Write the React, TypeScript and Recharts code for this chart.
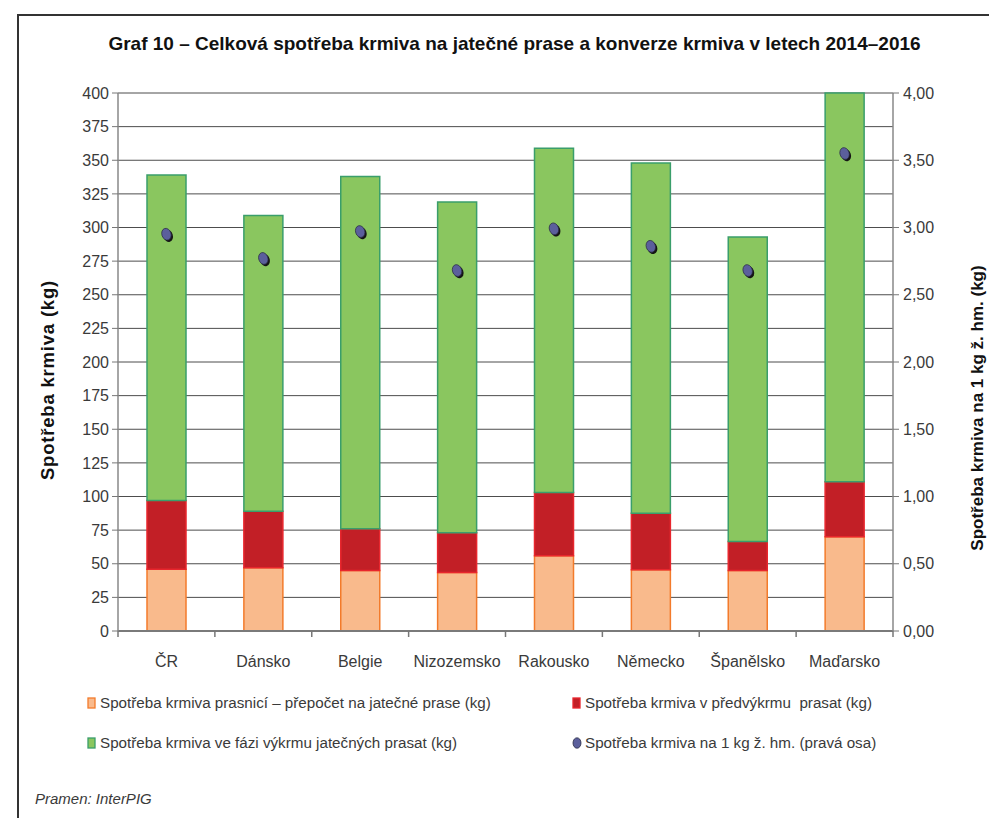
import React from 'react';
import { ComposedChart, Bar, Scatter, XAxis, YAxis, CartesianGrid } from 'recharts';

// data
const countries = ['ČR', 'Dánsko', 'Belgie', 'Nizozemsko', 'Rakousko', 'Německo', 'Španělsko', 'Maďarsko'];
const sowFeed = [46, 47, 45, 43.5, 56, 45.5, 45, 70];
const prefatFeed = [51, 42, 31, 29.5, 47, 42, 21.5, 41];
const finishFeed = [242, 220, 262, 246, 256, 260.5, 226.5, 289];
const conversion = [2.95, 2.77, 2.97, 2.68, 2.99, 2.86, 2.68, 3.55];

const leftTicks = [0, 25, 50, 75, 100, 125, 150, 175, 200, 225, 250, 275, 300, 325, 350, 375, 400];
const rightTicks = [0, 0.5, 1, 1.5, 2, 2.5, 3, 3.5, 4];

const seriesNames = [
  'Spotřeba krmiva prasnicí – přepočet na jatečné prase (kg)',
  'Spotřeba krmiva v předvýkrmu  prasat (kg)',
  'Spotřeba krmiva ve fázi výkrmu jatečných prasat (kg)',
  'Spotřeba krmiva na 1 kg ž. hm. (pravá osa)',
];

const data = countries.map((c, i) => ({
  name: c,
  sow: sowFeed[i],
  prefat: prefatFeed[i],
  finish: finishFeed[i],
  conv: conversion[i],
}));

const W = 989;
const H = 818;
const PLOT_L = 118;
const PLOT_R = 893;
const PLOT_T = 93;
const PLOT_B = 631;
const BAND = (PLOT_R - PLOT_L) / countries.length;
const FONT = '"Liberation Sans", Arial, sans-serif';
const TEXT = '#3a3a3a';

const XTick = (props: any) => {
  const { x, payload, index } = props;
  return (
    <g>
      <line x1={x - BAND / 2} x2={x - BAND / 2} y1={PLOT_B} y2={PLOT_B + 6} stroke="#777" strokeWidth={1.5} />
      {index === countries.length - 1 && (
        <line x1={x + BAND / 2} x2={x + BAND / 2} y1={PLOT_B} y2={PLOT_B + 6} stroke="#777" strokeWidth={1.5} />
      )}
      <text x={x} y={PLOT_B + 36} textAnchor="middle" fontSize={16} fill={TEXT} fontFamily={FONT}>
        {payload.value}
      </text>
    </g>
  );
};

const ConvDot = (props: any) => {
  const { cx, cy } = props;
  if (cx == null || cy == null) return null;
  return (
    <g>
      <ellipse cx={cx + 1.6} cy={cy + 1.6} rx={4.8} ry={6.2} fill="#151515" transform={`rotate(-18 ${cx + 1.6} ${cy + 1.6})`} />
      <ellipse cx={cx} cy={cy} rx={4.6} ry={6} fill="#5b5f9c" stroke="#2b2d45" strokeWidth={0.7} transform={`rotate(-18 ${cx} ${cy})`} />
    </g>
  );
};

const LegendSwatch = ({ fill, stroke, round }: any) =>
  round ? (
    <svg width={10} height={12} style={{ marginRight: 3 }}>
      <ellipse cx={5} cy={6} rx={4} ry={5.2} fill={fill} stroke={stroke} strokeWidth={0.8} />
    </svg>
  ) : (
    <svg width={10} height={12} style={{ marginRight: 3 }}>
      <rect x={1} y={1} width={7} height={10} fill={fill} stroke={stroke} strokeWidth={1.3} />
    </svg>
  );

const legendItems = [
  { name: seriesNames[0], fill: '#f9ba8c', stroke: '#f37b2b', left: 87, top: 694 },
  { name: seriesNames[1], fill: '#c21f26', stroke: '#e8262d', left: 572, top: 694 },
  { name: seriesNames[2], fill: '#8ac65f', stroke: '#3a9e6b', left: 87, top: 734 },
  { name: seriesNames[3], fill: '#5b5f9c', stroke: '#2b2d45', left: 572, top: 734, round: true },
];

const axisTitle = (x: number, y: number, size: number, spacing: number): React.CSSProperties => ({
  position: 'absolute',
  left: x,
  top: y,
  transform: 'translate(-50%, -50%) rotate(-90deg)',
  whiteSpace: 'nowrap',
  fontSize: size,
  letterSpacing: spacing,
  fontWeight: 'bold',
  color: '#111',
});

export default function App() {
  return (
    <div style={{ position: 'absolute', left: 0, top: 0, width: W, height: H, background: '#fff', fontFamily: FONT, overflow: 'hidden' }}>
      <div style={{ position: 'absolute', left: 17, top: 14, width: W, height: H, borderTop: '2px solid #333', borderLeft: '2px solid #333' }} />
      <div style={{ position: 'absolute', left: 0, width: W + 40, top: 33, textAlign: 'center', fontSize: 19, fontWeight: 'bold', color: '#111', fontFamily: '"Liberation Sans Narrow", "Liberation Sans", sans-serif' }}>
        Graf 10 – Celková spotřeba krmiva na jatečné prase a konverze krmiva v letech 2014–2016
      </div>
      <ComposedChart
        width={W}
        height={H}
        data={data}
        margin={{ top: PLOT_T, left: PLOT_L - 60, right: W - PLOT_R - 60, bottom: H - PLOT_B - 40 }}
        style={{ position: 'absolute', left: 0, top: 0 }}
      >
        <CartesianGrid yAxisId="left" vertical={false} stroke="#4d4d4d" strokeWidth={1} />
        <XAxis
          dataKey="name"
          height={40}
          tick={<XTick />}
          tickLine={false}
          axisLine={{ stroke: '#7a7a7a', strokeWidth: 2 }}
          interval={0}
        />
        <YAxis
          yAxisId="left"
          width={60}
          domain={[0, 400]}
          ticks={leftTicks}
          interval={0}
          tickSize={6}
          tickMargin={3}
          tickLine={{ stroke: '#777' }}
          axisLine={{ stroke: '#888', strokeWidth: 1.5 }}
          tick={{ fontSize: 16, fill: TEXT, fontFamily: FONT }}
        />
        <YAxis
          yAxisId="right"
          orientation="right"
          width={60}
          domain={[0, 4]}
          ticks={rightTicks}
          interval={0}
          tickSize={6}
          tickMargin={4}
          tickFormatter={(v: number) => v.toFixed(2).replace('.', ',')}
          tickLine={{ stroke: '#777' }}
          axisLine={{ stroke: '#888', strokeWidth: 1.5 }}
          tick={{ fontSize: 16, fill: TEXT, fontFamily: FONT }}
        />
        <Bar yAxisId="left" dataKey="sow" stackId="a" barSize={39} fill="#f9ba8c" stroke="#f37b2b" strokeWidth={1.5} isAnimationActive={false} />
        <Bar yAxisId="left" dataKey="prefat" stackId="a" barSize={39} fill="#c21f26" stroke="#e8262d" strokeWidth={1.5} isAnimationActive={false} />
        <Bar yAxisId="left" dataKey="finish" stackId="a" barSize={39} fill="#8ac65f" stroke="#3a9e6b" strokeWidth={1.5} isAnimationActive={false} />
        <Scatter yAxisId="right" dataKey="conv" shape={<ConvDot />} isAnimationActive={false} />
      </ComposedChart>
      <div style={axisTitle(48, 380, 18.5, 0.8)}>Spotřeba krmiva (kg)</div>
      <div style={axisTitle(978, 408, 17, 0)}>Spotřeba krmiva na 1 kg ž. hm. (kg)</div>
      {legendItems.map((it) => (
        <div key={it.name} style={{ position: 'absolute', left: it.left, top: it.top, display: 'flex', alignItems: 'center', fontSize: 15.2, color: TEXT, whiteSpace: 'pre' }}>
          <LegendSwatch fill={it.fill} stroke={it.stroke} round={it.round} />
          {it.name}
        </div>
      ))}
      <div style={{ position: 'absolute', left: 35, top: 790, fontSize: 15, fontStyle: 'italic', color: TEXT }}>Pramen: InterPIG</div>
    </div>
  );
}
